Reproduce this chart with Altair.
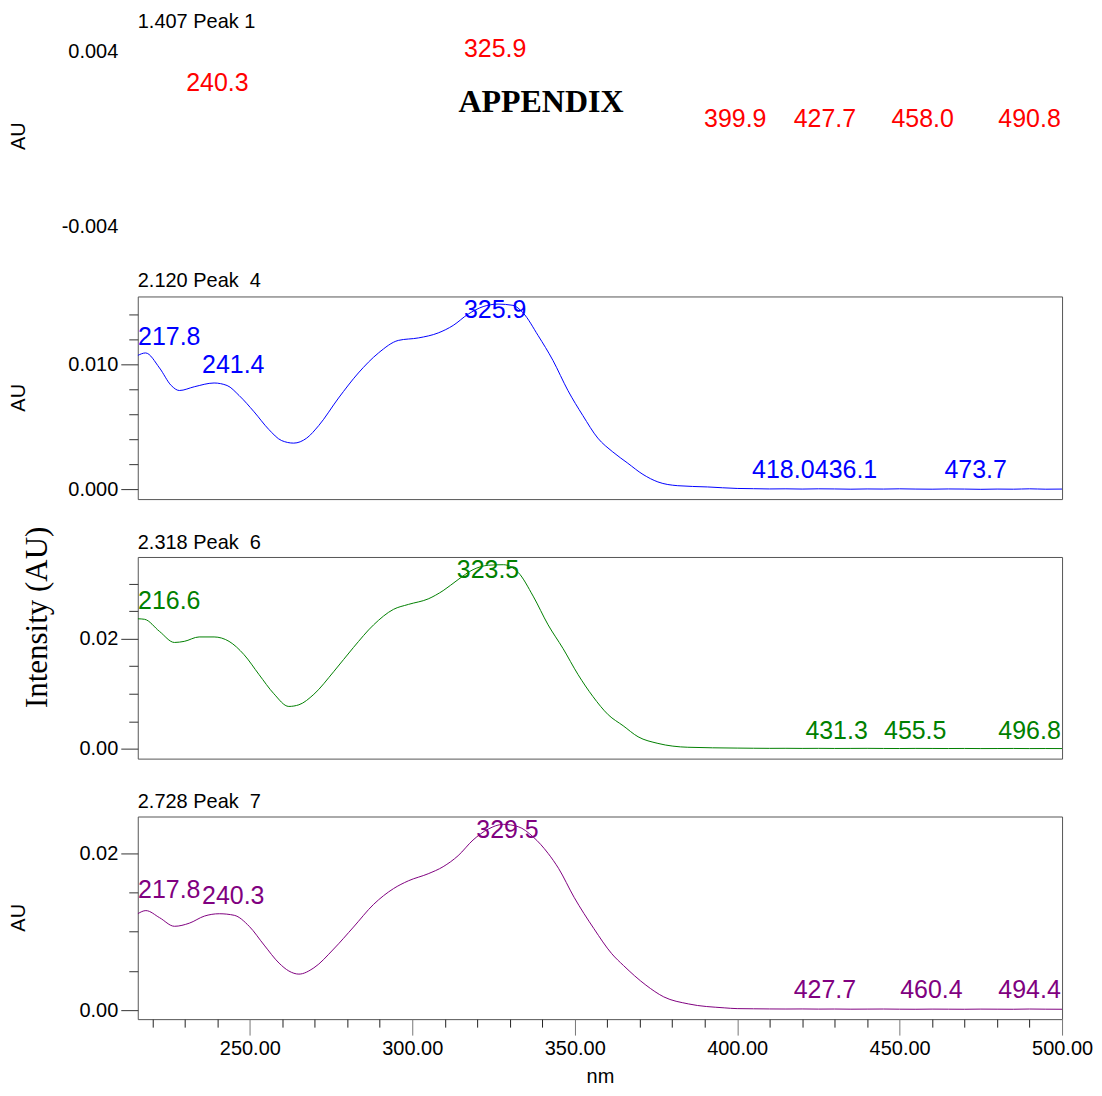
import altair as alt
import pandas as pd

FONT = "Liberation Sans"
SERIF = "Liberation Serif"
X_DOMAIN = [215.5, 500.0]

# ---------------- x axis ----------------
x_ticks = list(range(220, 501, 10))
x_major = [250, 300, 350, 400, 450, 500]

# ---------------- panel 1 (1.407 Peak 1, red, no curve) ----------------
p1_title = "1.407 Peak 1"
p1_y_domain = [-0.00455, 0.00469]
p1_y_ticks = [-0.004, 0.004]
p1_label_text = ["240.3", "325.9", "399.9", "427.7", "458.0", "490.8"]
p1_label_nm = [240.0, 325.5, 399.4, 427.0, 457.1, 490.0]
p1_label_au = [0.00258, 0.00414, 0.00094, 0.00094, 0.00094, 0.00094]
appendix_text = ["APPENDIX"]
appendix_nm = [339.6]
appendix_au = [0.00171]

# ---------------- panel 2 (2.120 Peak 4, blue) ----------------
p2_title = "2.120 Peak\u00a0 4"
p2_y_domain = [-0.00077, 0.01541]
p2_y_ticks = [0.0, 0.002, 0.004, 0.006, 0.008, 0.010, 0.012, 0.014]
p2_y_major = [0.0, 0.010]
p2_nm = [215.5, 217.9, 222.2, 225.8, 228.3, 232.9, 239.0, 243.0, 246.7, 251.3,
         255.8, 259.8, 263.5, 267.5, 271.2, 277.3, 283.4, 289.6, 295.7, 301.9,
         308.0, 312.6, 317.2, 321.8, 326.4, 331.0, 334.1, 338.7, 343.3, 347.9,
         352.5, 357.1, 361.7, 366.3, 371.0, 375.6, 381.7, 390.9, 400.0,
         405, 410, 415, 420, 425, 430, 435, 440, 445, 450,
         455, 460, 465, 470, 475, 480, 485, 490, 495, 500]
p2_au = [0.0107, 0.0109, 0.0097, 0.0083, 0.0079, 0.0082, 0.0085, 0.0083, 0.0075, 0.0062,
         0.0048, 0.0039, 0.0037, 0.0041, 0.0051, 0.0073, 0.0093, 0.0109, 0.0119, 0.0121,
         0.0125, 0.0131, 0.0140, 0.0146, 0.0148, 0.0147, 0.0141, 0.0123, 0.0103, 0.0079,
         0.0059, 0.0041, 0.0030, 0.0021, 0.0012, 0.0006, 0.0003, 0.0002, 0.00008,
         0.00006, 0.00004, 0.00005, 0.00003, 0.00005, 0.00004, 0.00002, 0.00004, 0.00003, 0.00005,
         0.00003, 0.00002, 0.00004, 0.00003, 0.00001, 0.00003, 0.00002, 0.00005, 0.00002, 0.00003]
p2_label_text = ["217.8", "241.4", "325.9", "418.0", "436.1", "473.7"]
p2_label_nm = [225.2, 244.9, 325.5, 414.2, 433.5, 473.4]
p2_label_au = [0.0122, 0.0099, 0.0143, 0.00154, 0.00154, 0.00154]

# ---------------- panel 3 (2.318 Peak 6, green) ----------------
p3_title = "2.318 Peak\u00a0 6"
p3_y_domain = [-0.00176, 0.0348]
p3_y_ticks = [0.0, 0.005, 0.010, 0.015, 0.020, 0.025, 0.030, 0.035]
p3_y_major = [0.0, 0.020]
p3_nm = [215.5, 217.6, 222.2, 226.8, 229.8, 234.4, 239.0, 243.6, 248.2, 252.8,
         257.4, 262.0, 265.1, 269.7, 275.8, 281.9, 288.1, 294.2, 298.8, 304.9,
         309.5, 314.1, 318.7, 323.4, 328.0, 332.6, 337.2, 341.8, 346.4, 351.0,
         355.6, 360.3, 364.9, 369.5, 375.6, 384.8, 400.0,
         405, 410, 415, 420, 425, 430, 435, 440, 445, 450,
         455, 460, 465, 470, 475, 480, 485, 490, 495, 500]
p3_au = [0.0236, 0.0235, 0.0213, 0.0193, 0.0195, 0.0203, 0.0203, 0.0195, 0.0171, 0.0135,
         0.0100, 0.0077, 0.0080, 0.0099, 0.0140, 0.0184, 0.0225, 0.0253, 0.0262, 0.0272,
         0.0287, 0.0307, 0.0325, 0.0333, 0.0334, 0.0320, 0.0277, 0.0225, 0.0182, 0.0135,
         0.0095, 0.0062, 0.0042, 0.0022, 0.0010, 0.0003, 0.00015,
         0.00012, 0.00010, 0.00011, 0.00009, 0.00010, 0.00008, 0.00009, 0.00010, 0.00008, 0.00007,
         0.00009, 0.00008, 0.00007, 0.00008, 0.00006, 0.00007, 0.00008, 0.00006, 0.00007, 0.00006]
p3_label_text = ["216.6", "323.5", "431.3", "455.5", "496.8"]
p3_label_nm = [225.2, 323.3, 430.6, 454.8, 490.0]
p3_label_au = [0.0269, 0.0325, 0.0033, 0.0033, 0.0033]

# ---------------- panel 4 (2.728 Peak 7, purple) ----------------
p4_title = "2.728 Peak\u00a0 7"
p4_y_domain = [-0.00114, 0.0247]
p4_y_ticks = [0.0, 0.005, 0.010, 0.015, 0.020]
p4_y_major = [0.0, 0.020]
p4_nm = [215.5, 218.0, 222.2, 226.8, 231.4, 236.0, 240.6, 245.2, 249.8, 254.4,
         259.0, 262.0, 265.1, 269.7, 275.8, 281.9, 288.1, 294.2, 298.8, 304.9,
         309.5, 314.1, 318.7, 323.4, 328.0, 332.6, 337.2, 341.8, 345.0, 349.8,
         355.9, 361.4, 365.0, 371.9, 377.4, 385.0, 396.0, 400.0,
         405, 410, 415, 420, 425, 430, 435, 440, 445, 450,
         455, 460, 465, 470, 475, 480, 485, 490, 495, 500]
p4_au = [0.0123, 0.0127, 0.0118, 0.0107, 0.0111, 0.0120, 0.0123, 0.0121, 0.0107, 0.0083,
         0.0060, 0.0050, 0.0046, 0.0054, 0.0078, 0.0106, 0.0135, 0.0155, 0.0165, 0.0174,
         0.0183, 0.0197, 0.0217, 0.0231, 0.0237, 0.0234, 0.0221, 0.0200, 0.0181, 0.0144,
         0.0104, 0.0072, 0.0057, 0.0032, 0.0017, 0.0008, 0.0003, 0.0002,
         0.00018, 0.00016, 0.00015, 0.00016, 0.00014, 0.00015, 0.00013, 0.00014, 0.00015, 0.00013,
         0.00012, 0.00014, 0.00013, 0.00012, 0.00014, 0.00013, 0.00012, 0.00015, 0.00013, 0.00012]
p4_label_text = ["217.8", "240.3", "329.5", "427.7", "460.4", "494.4"]
p4_label_nm = [225.2, 244.9, 329.3, 427.0, 459.8, 490.0]
p4_label_au = [0.0153, 0.0146, 0.0230, 0.00254, 0.00254, 0.00254]

PLOT_W = 926
AU_X = -119


def major_test(major):
    return " || ".join(f"abs(datum.value - ({m})) < 1e-9" for m in major)


def x_enc(show_axis):
    scale = alt.Scale(domain=X_DOMAIN, nice=False, zero=False)
    if not show_axis:
        return alt.X("nm:Q", scale=scale, axis=None)
    test = "datum.value % 50 == 0"
    axis = alt.Axis(
        values=x_ticks, format=".2f",
        labelExpr=f"({test}) ? datum.label : ''",
        labelOverlap=False, labelFlush=False,
        tickSize={"condition": {"test": test, "value": 16}, "value": 8},
        tickColor={"condition": {"test": test, "value": "#777777"}, "value": "#222222"},
        domain=False, grid=False,
        labelFont=FONT, labelFontSize=20, labelColor="black", labelPadding=3,
        title="nm", titleFont=FONT, titleFontSize=20, titleFontWeight="normal",
        titleColor="black", titlePadding=8,
    )
    return alt.X("nm:Q", scale=scale, axis=axis)


def y_enc(domain, ticks, major, fmt, title, title_x, title_y, title_font, title_size,
          show_ticks=True):
    test = major_test(major)
    kw = dict(
        values=ticks, format=fmt,
        labelExpr=f"({test}) ? replace(datum.label, '\u2212', '-') : ''",
        labelOverlap=False, labelFlush=False,
        domain=False, grid=False,
        labelFont=FONT, labelFontSize=20, labelColor="black",
        title=title, titleFont=title_font, titleFontSize=title_size,
        titleFontWeight="normal", titleColor="black", titleAngle=270,
        titleX=title_x, titleY=title_y, titleAlign="center", titleBaseline="middle",
    )
    if show_ticks:
        kw["tickSize"] = {"condition": {"test": test, "value": 17}, "value": 9}
        kw["tickColor"] = "#333333"
        kw["labelPadding"] = 3
    else:
        kw["ticks"] = False
        kw["labelPadding"] = 20
    return alt.Y("au:Q", scale=alt.Scale(domain=domain, nice=False, zero=False),
                 axis=alt.Axis(**kw))


def title_params(text, offset=5):
    return alt.TitleParams(text=text, anchor="start", frame="group", font=FONT,
                           fontSize=20, fontWeight="normal", color="black", offset=offset)


def labels_layer(texts, nms, aus, color, x, y):
    df = pd.DataFrame({"label": texts, "nm": nms, "au": aus})
    return alt.Chart(df).mark_text(font=FONT, fontSize=25, color=color,
                                   align="center", baseline="middle").encode(
        x=x, y=y, text="label:N")


def panel(title, nm, au, color, ltext, lnm, lau, y, x, height, title_offset=5):
    df = pd.DataFrame({"nm": nm, "au": au})
    line = alt.Chart(df).mark_line(color=color, strokeWidth=1, interpolate="monotone",
                                   clip=True).encode(x=x, y=y)
    lab = labels_layer(ltext, lnm, lau, color, x, y)
    return alt.layer(line, lab).properties(
        width=PLOT_W, height=height, title=title_params(title, title_offset))


# panel 1
x1 = x_enc(False)
y1 = y_enc(p1_y_domain, p1_y_ticks, p1_y_ticks, ".3f", "AU", AU_X, 99, FONT, 20,
           show_ticks=False)
lab1 = labels_layer(p1_label_text, p1_label_nm, p1_label_au, "#ff0000", x1, y1)
app_df = pd.DataFrame({"label": appendix_text, "nm": appendix_nm, "au": appendix_au})
app = alt.Chart(app_df).mark_text(font=SERIF, fontSize=32, fontWeight="bold",
                                  color="black", align="center",
                                  baseline="middle").encode(x=x1, y=y1, text="label:N")
panel1 = alt.layer(lab1, app).properties(
    width=PLOT_W, height=202, title=title_params(p1_title),
    view=alt.ViewBackground(strokeOpacity=0))

# panel 2
x2 = x_enc(False)
y2 = y_enc(p2_y_domain, p2_y_ticks, p2_y_major, ".3f", "AU", AU_X, 101, FONT, 20)
panel2 = panel(p2_title, p2_nm, p2_au, "#0000ff", p2_label_text, p2_label_nm,
               p2_label_au, y2, x2, 203)

# panel 3
x3 = x_enc(False)
y3 = y_enc(p3_y_domain, p3_y_ticks, p3_y_major, ".2f", "Intensity (AU)", -100, 60,
           SERIF, 31)
panel3 = panel(p3_title, p3_nm, p3_au, "#008000", p3_label_text, p3_label_nm,
               p3_label_au, y3, x3, 202, title_offset=-27)

# panel 4
x4 = x_enc(True)
y4 = y_enc(p4_y_domain, p4_y_ticks, p4_y_major, ".2f", "AU", AU_X, 101, FONT, 20)
panel4 = panel(p4_title, p4_nm, p4_au, "#800080", p4_label_text, p4_label_nm,
               p4_label_au, y4, x4, 203)

chart = alt.vconcat(panel1, panel2, panel3, panel4, spacing=58, bounds="flush").configure(
    font=FONT, background="white",
    padding={"left": 0, "right": 0, "top": 3, "bottom": 0}
).configure_view(stroke="#555555", strokeWidth=1)

chart.save("out.html", embed_options={"renderer": "svg", "actions": False})
